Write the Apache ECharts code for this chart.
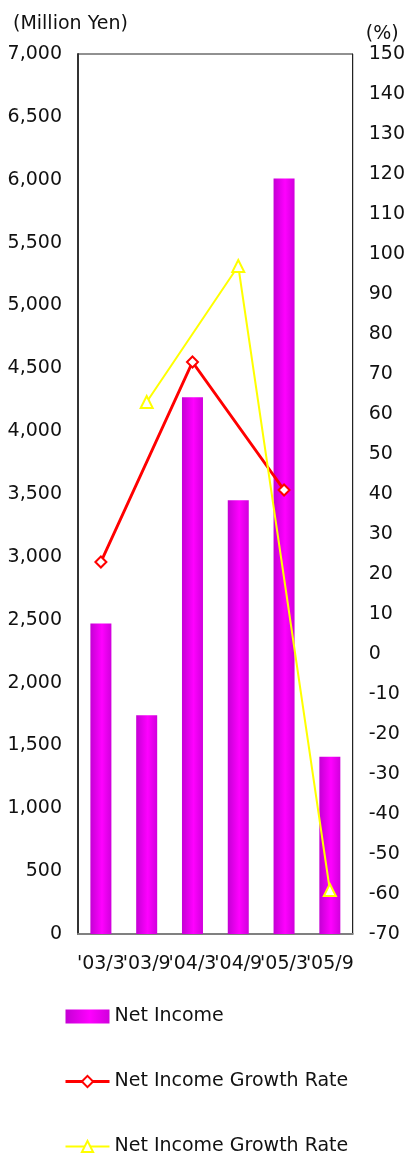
<!DOCTYPE html>
<html>
<head>
<meta charset="utf-8">
<script src="https://cdn.jsdelivr.net/npm/echarts@6/dist/echarts.min.js"></script>
<style>
  html, body { margin: 0; padding: 0; background: #fff; }
  #chart { width: 408px; height: 1156px; }
</style>
</head>
<body>
<div id="chart"></div>
<script>
// Half-year periods
const periods = ["'03/3", "'03/9", "'04/3", "'04/9", "'05/3", "'05/9"];
// Net income, million yen
const netIncome = [2470, 1740, 4270, 3450, 6010, 1410];
// Growth rate (%), March periods
const growthRateMar = [23, null, 73, null, 41, null];
// Growth rate (%), September periods
const growthRateSep = [null, 63, null, 97, null, -59];

const FONT = 'DejaVu Sans';
const chart = echarts.init(document.getElementById('chart'), null, { renderer: 'canvas' });

const barFill = new echarts.graphic.LinearGradient(0, 0, 1, 0, [
  { offset: 0, color: '#c400d4' },
  { offset: 0.55, color: '#ff00ff' },
  { offset: 1, color: '#d000dc' }
]);

chart.setOption({
  animation: false,
  backgroundColor: '#fff',
  textStyle: { fontFamily: FONT },
  grid: {
    left: 78, right: 53, top: 54, bottom: 222,
    show: true, borderColor: '#222', borderWidth: 1, backgroundColor: 'transparent'
  },
  legend: {
    orient: 'vertical',
    left: 64, top: 1007,
    padding: 0,
    itemWidth: 44, itemHeight: 14, itemGap: 46,
    textStyle: { fontFamily: FONT, fontSize: 19, color: '#111' },
    data: [
      { name: 'Net Income', icon: 'rect' },
      { name: 'Net Income Growth Rate ', lineStyle: { width: 3 } },
      { name: 'Net Income Growth Rate', lineStyle: { width: 2 } }
    ]
  },
  xAxis: {
    type: 'category',
    data: periods,
    boundaryGap: true,
    axisLine: { show: true, lineStyle: { color: '#808080', width: 2 } },
    axisTick: { show: false },
    axisLabel: { color: '#111', fontSize: 19, fontFamily: FONT, margin: 21, interval: 0 },
    splitLine: { show: false }
  },
  yAxis: [
    {
      type: 'value', min: 0, max: 7000, interval: 500,
      name: '(Million Yen)', nameLocation: 'end', nameGap: 20,
      nameTextStyle: { color: '#111', fontSize: 19, fontFamily: FONT, align: 'left', padding: [0, 0, 0, -65] },
      axisLine: { show: true, lineStyle: { color: '#333', width: 2 } },
      axisTick: { show: false },
      axisLabel: {
        color: '#111', fontSize: 19, fontFamily: FONT, margin: 16,
        formatter: v => v.toLocaleString('en-US')
      },
      splitLine: { show: false }
    },
    {
      type: 'value', min: -70, max: 150, interval: 10,
      name: '(%)', nameLocation: 'end', nameGap: 10,
      nameTextStyle: { color: '#111', fontSize: 19, fontFamily: FONT, align: 'left', padding: [0, 0, 0, 13] },
      axisLine: { show: true, lineStyle: { color: '#222', width: 1 } },
      axisTick: { show: false },
      axisLabel: { color: '#111', fontSize: 19, fontFamily: FONT, margin: 16 },
      splitLine: { show: false }
    }
  ],
  series: [
    {
      name: 'Net Income',
      type: 'bar',
      yAxisIndex: 0,
      data: netIncome,
      barWidth: 21,
      itemStyle: { color: barFill }
    },
    {
      name: 'Net Income Growth Rate ',
      type: 'line',
      yAxisIndex: 1,
      data: growthRateMar,
      connectNulls: true,
      symbol: 'diamond',
      symbolSize: 11,
      lineStyle: { color: '#ff0000', width: 3 },
      itemStyle: { color: '#fff', borderColor: '#ff0000', borderWidth: 2 },
      z: 3
    },
    {
      name: 'Net Income Growth Rate',
      type: 'line',
      yAxisIndex: 1,
      data: growthRateSep,
      connectNulls: true,
      symbol: 'triangle',
      symbolSize: 12,
      lineStyle: { color: '#ffff00', width: 2 },
      itemStyle: { color: '#fff', borderColor: '#ffff00', borderWidth: 2 },
      z: 4
    }
  ]
});
</script>
</body>
</html>
